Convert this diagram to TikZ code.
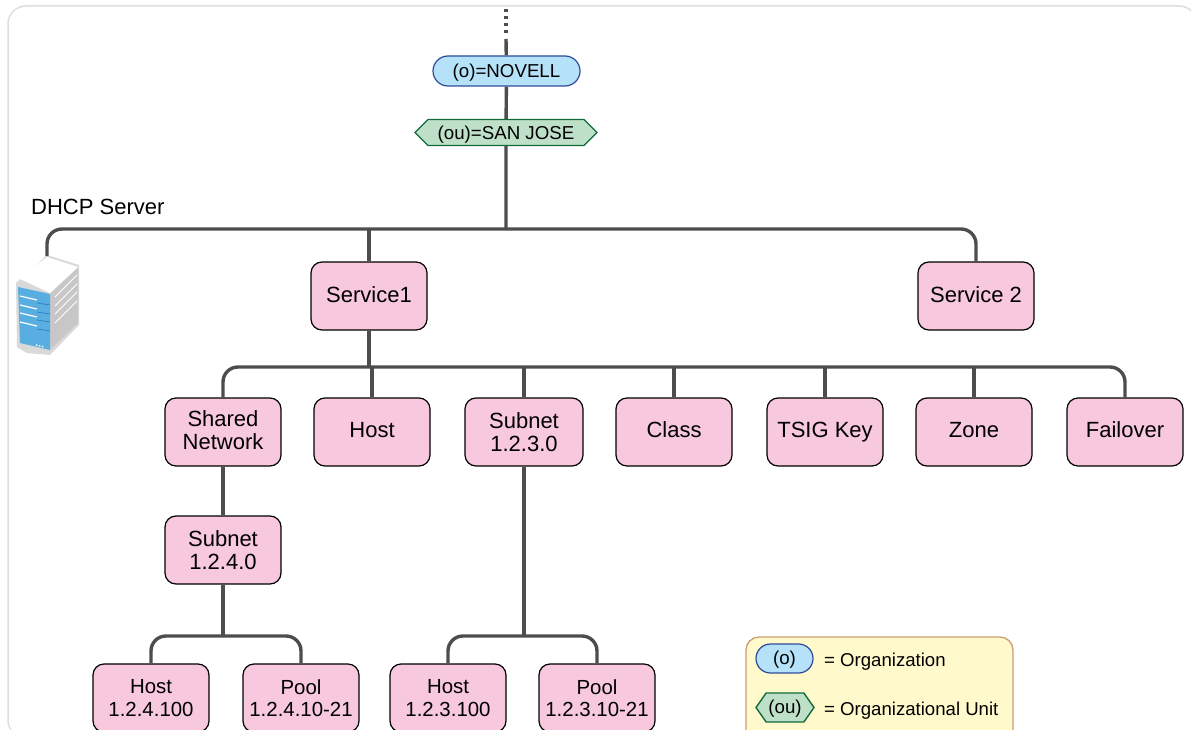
\documentclass[tikz,border=0pt]{standalone}
\usepackage{fontspec}
\setmainfont{Liberation Sans}
\usetikzlibrary{shapes.symbols,shapes.misc}
\definecolor{boxpink}{HTML}{F7C8DE}
\definecolor{orgblue}{HTML}{B5E2F8}
\definecolor{orgline}{HTML}{2E4A9A}
\definecolor{ougreen}{HTML}{BFE0C8}
\definecolor{ouline}{HTML}{0F6B3C}
\definecolor{keyfill}{HTML}{FFF9CC}
\definecolor{keyline}{HTML}{C8A070}
\definecolor{wirecol}{HTML}{4D4D4F}
\definecolor{srvblue}{HTML}{58AEE0}
\definecolor{srvdark}{HTML}{2F7FBF}
\begin{document}
\begin{tikzpicture}[x=1pt, y=-1pt,
    main/.style = {draw=black, fill=boxpink, line width=1.2pt, rounded corners=11pt, minimum width=116pt, minimum height=68pt, align=center, inner sep=0pt, font=\fontsize{22}{23}\selectfont},
    leaf/.style = {main, font=\fontsize{20.4}{22.5}\selectfont},
    lift/.style = {execute at end node={\rule[-#1]{0pt}{0pt}}},
    drop/.style = {execute at begin node={\rule{0pt}{#1}}},
    org/.style = {draw=orgline, fill=orgblue, line width=1.2pt, rounded rectangle, inner sep=0pt, font=\fontsize{18.7}{22}\selectfont},
    ou/.style = {draw=ouline, fill=ougreen, line width=1.4pt, signal, signal to=east and west, inner sep=0pt, font=\fontsize{18.7}{22}\selectfont},
    wire/.style = {draw=wirecol, line width=3.4pt},
    bus/.style = {wire, rounded corners=15pt},
    keytext/.style = {anchor=west, inner sep=0pt, font=\fontsize{18.6}{22}\selectfont}]
    \useasboundingbox (0,0) rectangle (1191,730);
    % frame
    \draw[draw=black!13, line width=1.5pt, rounded corners=18pt] (8,6) rectangle (1197,738);
    % top of tree
    \node[org, minimum width=147pt, minimum height=30pt, drop=16pt] (novell) at (506.5,71) {(o)=NOVELL};
    \node[ou, minimum width=182pt, minimum height=26pt, signal pointer angle=90, drop=18pt] (sanjose) at (506,132.5) {(ou)=SAN JOSE};
    \coordinate (dots) at (506,9);
    \coordinate (dotsend) at (506,33);
    \coordinate (stub) at (506,39);
    \coordinate (bus1) at (506,229);
    \node[anchor=west, inner sep=0pt, font=\fontsize{22}{24}\selectfont] (dhcp) at (31,207) {DHCP Server};
    % services
    \node[main, lift=2pt] (service1) at (369,296) {Service1};
    \node[main, lift=2pt] (service2) at (976,296) {Service 2};
    % second level
    \node[main, lift=4pt] (shared) at (223,432) {Shared\\Network};
    \node[main, lift=4pt] (host) at (372,432) {Host};
    \node[main, minimum width=118pt, drop=22pt] (subnet3) at (524,432) {Subnet\\1.2.3.0};
    \node[main, lift=4pt] (class) at (674,432) {Class};
    \node[main] (tsig) at (825,432) {TSIG Key};
    \node[main, lift=4pt] (zone) at (974,432) {Zone};
    \node[main, lift=4pt] (failover) at (1125,432) {Failover};
    \coordinate (bus2) at (369,367);
    % under shared network
    \node[main] (subnet4) at (223,550) {Subnet\\1.2.4.0};
    \node[leaf] (host4) at (151,698) {Host\\1.2.4.100};
    \node[leaf] (pool4) at (301,698) {Pool\\1.2.4.10-21};
    \node[leaf] (host3) at (448,698) {Host\\1.2.3.100};
    \node[leaf] (pool3) at (597,698) {Pool\\1.2.3.10-21};
    \coordinate (bus3) at (223,636);
    \coordinate (bus4) at (524,636);
    % server
    \coordinate (srv) at (47,256);
    \fill[black!15] (16,283) -- (47,255) -- (79,265) -- (79,325) -- (50,355) -- (27,353) -- (17,347) -- cycle;
    \fill[white] (18,278) -- (47,257) -- (78,267) -- (50,293) -- cycle;
    \fill[black!22] (50,294) -- (78,268) -- (78,323) -- (50,350) -- cycle;
    \fill[srvblue] (18,287) -- (50,294) -- (50,350) -- (20,343) -- cycle;
    \foreach \y in {296,305,313,322} {
        \draw[white, line width=1.2pt] (20,\y) -- (37,\y+4);
        \draw[srvdark, line width=0.7pt] (37,\y+7) -- (50,\y+9);
        \draw[white, line width=0.8pt] (55,\y+1) -- (77,\y-21);
    }
    \draw[white, line width=1.4pt, dash pattern=on 1.5pt off 1.5pt] (36,345) -- (44,347);
    % connectors
    \draw[wire, dash pattern=on 3.5pt off 3.5pt] (dots) -- (dotsend);
    \draw[wire] (stub) -- (novell);
    \draw[wire] (novell) -- (sanjose);
    \draw[wire] (sanjose) -- (bus1);
    \draw[bus] (srv) |- (bus1);
    \draw[bus] (bus1) -| (service2);
    \draw[wire] (service1 |- bus1) -- (service1);
    \draw[wire] (service1) -- (bus2);
    \draw[bus] (shared) |- (bus2);
    \draw[bus] (bus2) -| (failover);
    \foreach \n in {host,subnet3,class,tsig,zone} {
        \draw[wire] (\n |- bus2) -- (\n);
    }
    \draw[wire] (shared) -- (subnet4);
    \draw[wire] (subnet4) -- (bus3);
    \draw[bus] (host4) |- (bus3);
    \draw[bus] (bus3) -| (pool4);
    \draw[wire] (subnet3) -- (bus4);
    \draw[bus] (host3) |- (bus4);
    \draw[bus] (bus4) -| (pool3);
    % legend
    \node[draw=keyline, fill=keyfill, line width=1.3pt, rounded corners=13pt, minimum width=267pt, minimum height=110pt, inner sep=0pt] (legend) at (879.5,692) {};
    \node[org, minimum width=57pt, minimum height=29pt, drop=16pt] (keyorg) at (784.5,658.5) {(o)};
    \node[ou, minimum width=58pt, minimum height=29pt, signal pointer angle=110, drop=16pt] (keyou) at (785,707.5) {(ou)};
    \node[keytext] (keyorgtext) at (824,662) {= Organization};
    \node[keytext] (keyoutext) at (824,711) {= Organizational Unit};
\end{tikzpicture}
\end{document}
